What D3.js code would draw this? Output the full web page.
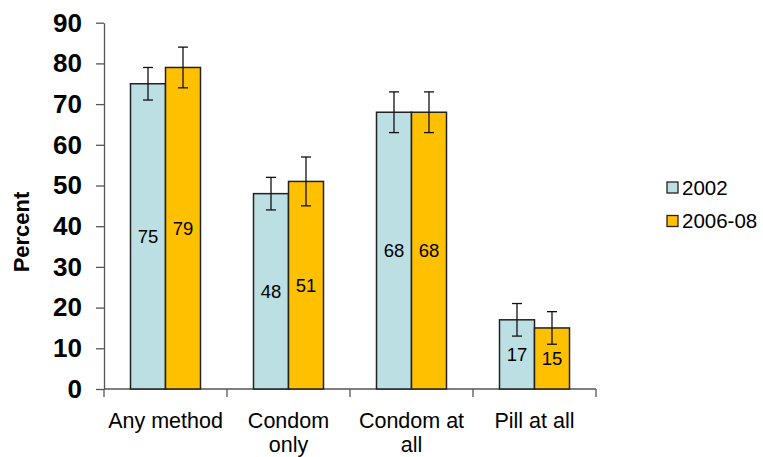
<!DOCTYPE html>
<html>
<head>
<meta charset="utf-8">
<script src="https://cdn.jsdelivr.net/npm/d3@7"></script>
<style>
body { margin: 0; background: #fff; }
svg { display: block; font-family: Arial, "Liberation Sans", sans-serif; }
</style>
</head>
<body>
<svg id="chart" width="763" height="457"></svg>
<script>
const categories = [["Any method"], ["Condom", "only"], ["Condom at", "all"], ["Pill at all"]];
const seriesNames = ["2002", "2006-08"];
const values2002 = [75, 48, 68, 17];
const values200608 = [79, 51, 68, 15];
const low2002 = [71, 44, 63, 13];
const high2002 = [79, 52, 73, 21];
const low200608 = [74, 45, 63, 11];
const high200608 = [84, 57, 73, 19];
const yTicks = [0, 10, 20, 30, 40, 50, 60, 70, 80, 90];
const colors = ["#BBDFE2", "#FFC000"];

(function () {
const series = [
  { name: seriesNames[0], values: values2002, low: low2002, high: high2002, color: colors[0] },
  { name: seriesNames[1], values: values200608, low: low200608, high: high200608, color: colors[1] }
];

const svg = d3.select("#chart");
const mLeft = 104, mRight = 596, mTop = 22.7, mBottom = 389;

const x0 = d3.scaleBand().domain(d3.range(categories.length)).range([mLeft, mRight]).padding(0);
const x1 = d3.scaleBand().domain(d3.range(series.length)).range([26.5, x0.bandwidth() - 26.5]).padding(0);
const y = d3.scaleLinear().domain([0, 90]).range([mBottom, mTop]);

// y axis
const yAxis = svg.append("g").attr("transform", `translate(${mLeft},0)`)
  .call(d3.axisLeft(y).tickValues(yTicks).tickSize(8).tickPadding(14).tickSizeOuter(0));
yAxis.select(".domain").attr("stroke", "#555").attr("stroke-width", 1.3);
yAxis.selectAll(".tick line").attr("stroke", "#555").attr("stroke-width", 1.3);
yAxis.selectAll(".tick text").attr("font-size", "26px").attr("font-weight", "bold")
  .attr("fill", "#000").attr("font-family", "Arial, 'Liberation Sans', sans-serif");

// x axis
const xAxisG = svg.append("g").attr("transform", `translate(0,${mBottom})`);
xAxisG.append("line").attr("x1", mLeft).attr("x2", mRight).attr("stroke", "#555").attr("stroke-width", 1.3);
const xTickPos = d3.range(categories.length + 1).map(i => i < categories.length ? x0(i) : x0(categories.length - 1) + x0.bandwidth());
xAxisG.selectAll("line.tk").data(xTickPos).join("line").attr("class", "tk")
  .attr("x1", d => d).attr("x2", d => d).attr("y1", 0).attr("y2", 8)
  .attr("stroke", "#555").attr("stroke-width", 1.3);

const catLabels = svg.append("g").selectAll("text").data(categories).join("text")
  .attr("x", (d, i) => x0(i) + x0.bandwidth() / 2)
  .attr("y", 428)
  .attr("text-anchor", "middle")
  .attr("font-size", "21.5px")
  .attr("fill", "#000");
catLabels.each(function(d) {
  const t = d3.select(this);
  d.forEach((line, j) => {
    t.append("tspan").attr("x", t.attr("x")).attr("dy", j === 0 ? 0 : 24).text(line);
  });
});

// y label
svg.append("text")
  .attr("transform", `translate(29,232) rotate(-90)`)
  .attr("text-anchor", "middle")
  .attr("font-size", "22px")
  .attr("font-weight", "bold")
  .text("Percent");

// bars
const groups = svg.append("g").selectAll("g").data(categories).join("g")
  .attr("transform", (d, i) => `translate(${x0(i)},0)`);

series.forEach((s, si) => {
  groups.append("rect")
    .attr("x", x1(si))
    .attr("width", x1.bandwidth())
    .attr("y", (d, i) => y(s.values[i]))
    .attr("height", (d, i) => mBottom - y(s.values[i]))
    .attr("fill", s.color)
    .attr("stroke", "#222")
    .attr("stroke-width", 1.5);
});

series.forEach((s, si) => {
  const cx = x1(si) + x1.bandwidth() / 2;
  groups.append("line")
    .attr("x1", cx).attr("x2", cx)
    .attr("y1", (d, i) => y(s.low[i])).attr("y2", (d, i) => y(s.high[i]))
    .attr("stroke", "#111").attr("stroke-width", 1.3);
  groups.append("line")
    .attr("x1", cx - 5).attr("x2", cx + 5)
    .attr("y1", (d, i) => y(s.low[i])).attr("y2", (d, i) => y(s.low[i]))
    .attr("stroke", "#111").attr("stroke-width", 1.3);
  groups.append("line")
    .attr("x1", cx - 5).attr("x2", cx + 5)
    .attr("y1", (d, i) => y(s.high[i])).attr("y2", (d, i) => y(s.high[i]))
    .attr("stroke", "#111").attr("stroke-width", 1.3);
  groups.append("text")
    .attr("x", cx)
    .attr("y", (d, i) => (y(s.values[i]) + mBottom) / 2)
    .attr("dy", "0.35em")
    .attr("text-anchor", "middle")
    .attr("font-size", "18.5px")
    .attr("fill", "#000")
    .text((d, i) => s.values[i]);
});

// legend
const legend = svg.append("g").selectAll("g").data(series).join("g")
  .attr("transform", (d, i) => `translate(667,${182 + i * 33.5})`);
legend.append("rect").attr("width", 11).attr("height", 11)
  .attr("fill", d => d.color).attr("stroke", "#222").attr("stroke-width", 1.3);
legend.append("text").attr("x", 15).attr("y", 5.5).attr("dy", "0.36em")
  .attr("font-size", "20.5px").attr("fill", "#000").text(d => d.name);
})();
</script>
</body>
</html>
